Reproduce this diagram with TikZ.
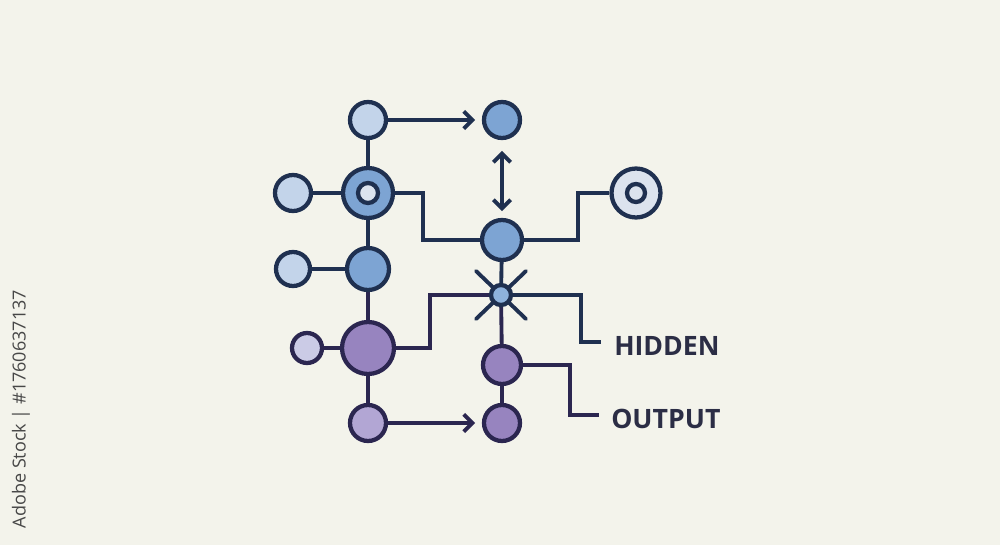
\documentclass[tikz,border=0pt]{standalone}
\usepackage{fontspec}
\setmainfont{Open Sans}
\usetikzlibrary{arrows.meta,calc}
\definecolor{bgc}{HTML}{F3F3EB}
\definecolor{navy}{HTML}{1F3050}
\definecolor{dpurp}{HTML}{2B2650}
\definecolor{lblue}{HTML}{C3D4EA}
\definecolor{mblue}{HTML}{7DA4D3}
\definecolor{sblue}{HTML}{8EB2DC}
\definecolor{purp}{HTML}{9784BF}
\definecolor{lpurp}{HTML}{B2A6D4}
\definecolor{lav}{HTML}{CBCBE6}
\definecolor{ringf}{HTML}{DCE3EE}
\definecolor{txtc}{HTML}{2B2D45}
\pgfdeclarelayer{back}
\pgfdeclarelayer{bg}
\pgfsetlayers{back,bg,main}
\begin{document}
\begin{tikzpicture}[x=0.75pt,y=-0.75pt,
  nd/.style={circle,inner sep=0pt,minimum size=#1*0.75pt,line width=3.2pt},
  bnode/.style={nd=#1,draw=navy},
  pnode/.style={nd=#1,draw=dpurp},
  conn/.style={line width=2.9pt,draw=navy},
  pconn/.style={line width=2.9pt,draw=dpurp},
  barb/.tip={Straight Barb[length=6.5pt,width=13pt,line width=2.9pt]},
  tip/.style={-barb},
  lab/.style={anchor=west,text=txtc,font=\bfseries\fontsize{20}{24}\selectfont,inner sep=0pt}]
\begin{pgfonlayer}{back}
\path[fill=bgc] (0,0) rectangle (1000,545);
\end{pgfonlayer}
% left column
\node[bnode=36,fill=lblue] (A1) at (368,120) {};
\node[bnode=50,fill=mblue] (A2) at (368,193) {};
\node[bnode=20,fill=ringf] (A2i) at (368,193) {};
\node[bnode=42,fill=mblue] (A3) at (368,269) {};
\node[pnode=52,fill=purp] (A4) at (368,348) {};
\node[pnode=36,fill=lpurp] (A5) at (368,423) {};
% leaves
\node[bnode=36,fill=lblue] (L1) at (293,193) {};
\node[bnode=34,fill=lblue] (L2) at (293,269) {};
\node[pnode=30,fill=lav] (L3) at (307,348) {};
% right column
\node[bnode=36,fill=mblue] (B1) at (502,120) {};
\node[bnode=40,fill=mblue] (B2) at (502,240) {};
\node[bnode=20,fill=sblue] (B3) at (501,295) {};
\node[pnode=38,fill=purp] (B4) at (502,365) {};
\node[pnode=36,fill=purp] (B5) at (502,423) {};
% ring output
\node[bnode=49,fill=ringf] (R1) at (636,193) {};
\node[bnode=18,fill=ringf] (R1i) at (636,193) {};
% labels
\node[lab] (hid) at (614,346) {HIDDEN};
\node[lab] (out) at (611,419) {OUTPUT};
\node[rotate=90,text=black!72,font=\fontsize{13.5}{16}\selectfont] (wm) at (21,409) {Adobe Stock | \#1760637137};
% elbow points
\coordinate (e1) at (423,193);
\coordinate (e2) at (578,193);
\coordinate (e3) at (430,295);
\coordinate (e4) at (581,342);
\coordinate (h1) at (601,342);
\coordinate (e5) at (570,415);
\coordinate (h2) at (599,415);
\begin{pgfonlayer}{bg}
  \draw[conn] (A1) -- (A2) -- (A3);
  \draw[pconn] (A3) -- (A4) -- (A5);
  \draw[conn] (L1) -- (A2);
  \draw[conn] (L2) -- (A3);
  \draw[pconn] (L3) -- (A4);
  \draw[conn] (A2) -- (e1) |- (B2);
  \draw[conn] (B2) -| (e2) -- (R1);
  \draw[conn] (B2) -- (B3);
  \draw[pconn] (B3) -- (B4) -- (B5);
  \draw[pconn] (A4) -| (e3) -- (B3);
  \draw[conn] (B3) -| (e4) -- (h1);
  \draw[pconn] (B4) -| (e5) -- (h2);
  \draw[conn,line cap=round] ($(B3)+(-25,-24)$) -- ($(B3)+(25,24)$);
  \draw[conn,line cap=round] ($(B3)+(-25,24)$) -- ($(B3)+(25,-24)$);
\end{pgfonlayer}
\draw[conn,tip,shorten >=5pt] (A1) -- (B1);
\draw[pconn,tip,shorten >=5pt] (A5) -- (B5);
\draw[conn,barb-barb,shorten >=5pt,shorten <=8pt] (B1) -- (B2);
\end{tikzpicture}
\end{document}
